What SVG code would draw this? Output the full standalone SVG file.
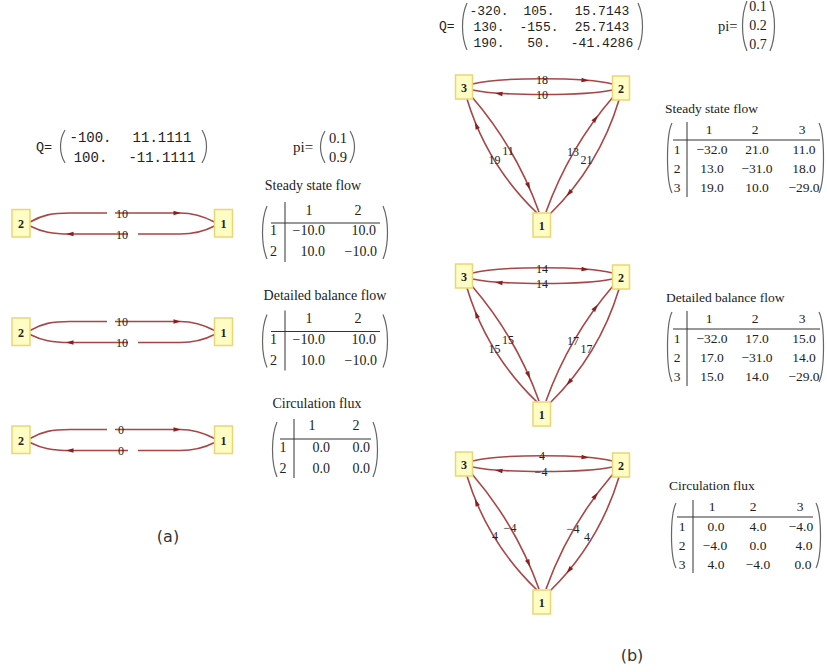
<svg xmlns="http://www.w3.org/2000/svg" width="827" height="672" viewBox="0 0 827 672">
<style>
.edge path{fill:none;stroke:#a84646;stroke-width:1.6}
.ah{fill:#8b1f1f;stroke:none}
.node rect{fill:#fffcc4;stroke:#ecd574;stroke-width:1.5}
.node text{font-family:"Liberation Serif",serif;font-size:12px;font-weight:bold;text-anchor:middle;fill:#222}
.el{font-family:"Liberation Serif",serif;font-size:12px;text-anchor:middle;fill:#222}
.mono{font-family:"Liberation Mono",monospace;fill:#222}
.serif{font-family:"Liberation Serif",serif;fill:#222}
.paren{fill:none;stroke:#666;stroke-width:1.2}
.rule{stroke:#333;stroke-width:1;fill:none}
.tl text{font-family:"Liberation Serif",serif;font-size:14px;fill:#222}
.tr text{font-family:"Liberation Serif",serif;font-size:13.5px;fill:#222}
.m{text-anchor:middle}
.e{text-anchor:end}
.cap{font-family:"DejaVu Sans",sans-serif;font-size:16px;fill:#333;text-anchor:middle}
</style>
<defs>
<path id="ah" class="ah" d="M3,0 L-4.5,-2.3 L-4.5,2.3 Z"/>
</defs>
<rect width="827" height="672" fill="#fff"/>

<!-- (a) Q and pi -->
<g id="a-Q">
<text class="mono" x="36" y="151" font-size="13.5">Q=</text>
<path class="paren" d="M65,130 C59,140 59,153 65,163"/>
<path class="paren" d="M202,130 C208,140 208,153 202,163"/>
<g class="mono m" font-size="14">
<text x="90.5" y="142">-100.</text><text x="162" y="142">11.1111</text>
<text x="90.5" y="162">100.</text><text x="162" y="162">-11.1111</text>
</g>
</g>
<g id="a-pi">
<text class="serif" x="293" y="152" font-size="15">pi=</text>
<path class="paren" d="M325,131 C319,141 319,153 325,163"/>
<path class="paren" d="M350,131 C356,141 356,153 350,163"/>
<g class="serif m" font-size="14.5"><text x="338" y="143">0.1</text><text x="338" y="162">0.9</text></g>
</g>

<!-- (a) graphs -->
<g id="a-steady-graph">
<g id="a1-edges" class="edge">
<path d="M30,222 C42,215 52,213 70,213 L107,213"/>
<path d="M115,213 L180,213 C195,213 205,217 214.5,222"/>
<path d="M214.5,226 C205,231 195,234 180,234 L138,234"/>
<path d="M128,234 L70,234 C52,234 42,232 30,226"/>
<use href="#ah" transform="translate(178,213)"/>
<use href="#ah" transform="translate(69,234) rotate(180)"/>
<text class="el" x="122" y="217.5">10</text>
<text class="el" x="122" y="238.5">10</text>
</g>
<g id="a1-n2" class="node"><rect x="12" y="209.5" width="18" height="27.5"/><text x="21" y="228">2</text></g>
<g id="a1-n1" class="node"><rect x="214.5" y="209.5" width="18" height="27.5"/><text x="223.5" y="228">1</text></g>
</g>

<g id="a-detailed-graph" transform="translate(0,108.5)">
<g id="a2-edges" class="edge">
<path d="M30,222 C42,215 52,213 70,213 L107,213"/>
<path d="M115,213 L180,213 C195,213 205,217 214.5,222"/>
<path d="M214.5,226 C205,231 195,234 180,234 L138,234"/>
<path d="M128,234 L70,234 C52,234 42,232 30,226"/>
<use href="#ah" transform="translate(178,213)"/>
<use href="#ah" transform="translate(69,234) rotate(180)"/>
<text class="el" x="122" y="217.5">10</text>
<text class="el" x="122" y="238.5">10</text>
</g>
<g id="a2-n2" class="node"><rect x="12" y="209.5" width="18" height="27.5"/><text x="21" y="228">2</text></g>
<g id="a2-n1" class="node"><rect x="214.5" y="209.5" width="18" height="27.5"/><text x="223.5" y="228">1</text></g>
</g>

<g id="a-circ-graph" transform="translate(0,216.5)">
<g id="a3-edges" class="edge">
<path d="M30,222 C42,215 52,213 70,213 L107,213"/>
<path d="M115,213 L180,213 C195,213 205,217 214.5,222"/>
<path d="M214.5,226 C205,231 195,234 180,234 L138,234"/>
<path d="M128,234 L70,234 C52,234 42,232 30,226"/>
<use href="#ah" transform="translate(178,213)"/>
<use href="#ah" transform="translate(69,234) rotate(180)"/>
<text class="el" x="121" y="217.5">0</text>
<text class="el" x="121" y="238.5">0</text>
</g>
<g id="a3-n2" class="node"><rect x="12" y="209.5" width="18" height="27.5"/><text x="21" y="228">2</text></g>
<g id="a3-n1" class="node"><rect x="214.5" y="209.5" width="18" height="27.5"/><text x="223.5" y="228">1</text></g>
</g>

<!-- (a) tables -->
<g id="a-steady-table" class="tl">
<text class="m" x="313" y="190" font-size="15">Steady state flow</text>
<path class="paren" d="M267,206 C261,220 261,245 267,259"/>
<path class="paren" d="M383,206 C389,220 389,245 383,259"/>
<path class="rule" d="M285,202 V262 M271,223 H380"/>
<text class="m" x="309" y="214.5">1</text><text class="m" x="358" y="214.5">2</text>
<text class="m" x="273.5" y="235">1</text><text class="m" x="273.5" y="256">2</text>
<text class="e" x="325" y="235">−10.0</text><text class="e" x="376" y="235">10.0</text>
<text class="e" x="325" y="256">10.0</text><text class="e" x="377" y="256">−10.0</text>
</g>
<g id="a-detailed-table" class="tl">
<text class="m" x="325" y="300" font-size="15">Detailed balance flow</text>
<g transform="translate(0,108.5)">
<path class="paren" d="M267,206 C261,220 261,245 267,259"/>
<path class="paren" d="M383,206 C389,220 389,245 383,259"/>
<path class="rule" d="M285,202 V262 M271,223 H380"/>
<text class="m" x="309" y="214.5">1</text><text class="m" x="358" y="214.5">2</text>
<text class="m" x="273.5" y="235">1</text><text class="m" x="273.5" y="256">2</text>
<text class="e" x="325" y="235">−10.0</text><text class="e" x="376" y="235">10.0</text>
<text class="e" x="325" y="256">10.0</text><text class="e" x="377" y="256">−10.0</text>
</g>
</g>
<g id="a-circ-table" class="tl">
<text class="m" x="317" y="408" font-size="15">Circulation flux</text>
<path class="paren" d="M277,422 C271,436 271,463 277,477"/>
<path class="paren" d="M373,422 C379,436 379,463 373,477"/>
<path class="rule" d="M294,419 V478 M280,439 H371"/>
<text class="m" x="312" y="430">1</text><text class="m" x="356" y="430">2</text>
<text class="m" x="283" y="452">1</text><text class="m" x="283" y="473">2</text>
<text class="e" x="330" y="452">0.0</text><text class="e" x="370" y="452">0.0</text>
<text class="e" x="330" y="473">0.0</text><text class="e" x="370" y="473">0.0</text>
</g>
<text class="cap" x="168" y="542">(a)</text>

<!-- (b) Q and pi -->
<g id="b-Q">
<text class="mono" x="439" y="30" font-size="13">Q=</text>
<path class="paren" d="M467,3 C461,16 461,37 467,50"/>
<path class="paren" d="M638,3 C644,16 644,37 638,50"/>
<g class="mono m" font-size="13">
<text x="489" y="15">-320.</text><text x="539" y="15">105.</text><text x="602" y="15">15.7143</text>
<text x="489" y="31">130.</text><text x="539" y="31">-155.</text><text x="602" y="31">25.7143</text>
<text x="489" y="47">190.</text><text x="539" y="47">50.</text><text x="602" y="47">-41.4286</text>
</g>
</g>
<g id="b-pi">
<text class="serif" x="718" y="31" font-size="14.5">pi=</text>
<path class="paren" d="M747,1 C741,15 741,37 747,51"/>
<path class="paren" d="M770,1 C776,15 776,37 770,51"/>
<g class="serif m" font-size="14"><text x="758" y="11">0.1</text><text x="758" y="30">0.2</text><text x="758" y="49">0.7</text></g>
</g>

<!-- (b) triangles -->
<g id="b-steady-graph">
<g id="b1-edges" class="edge">
<path d="M472.5,84 C500,77 585,77 612.5,84"/>
<path d="M612.5,90 C585,96 500,96 472.5,90"/>
<path d="M472,97 Q516,148 539,212"/>
<path d="M537,213 Q487,165 467,99"/>
<path d="M546,212 Q569,148 613,97"/>
<path d="M619,100 Q599,166 550,214"/>
<use href="#ah" transform="translate(586,80.4) rotate(5)"/>
<use href="#ah" transform="translate(498,93.6) rotate(185)"/>
<use href="#ah" transform="translate(529,187) rotate(66)"/>
<use href="#ah" transform="translate(476,124.7) rotate(-113)"/>
<use href="#ah" transform="translate(596,118) rotate(-53)"/>
<use href="#ah" transform="translate(568.5,194) rotate(130)"/>
<text class="el" x="542" y="83.5">18</text>
<text class="el" x="542" y="99">10</text>
<text class="el" x="508" y="155">11</text>
<text class="el" x="494.5" y="163.5">19</text>
<text class="el" x="573" y="156">13</text>
<text class="el" x="586.5" y="164">21</text>
</g>
<g id="b1-n3" class="node"><rect x="455.5" y="75" width="17" height="24"/><text x="464" y="91.5">3</text></g>
<g id="b1-n2" class="node"><rect x="612.5" y="76" width="17" height="24"/><text x="621" y="92.5">2</text></g>
<g id="b1-n1" class="node"><rect x="533" y="213" width="17.5" height="24"/><text x="541.75" y="229.5">1</text></g>
</g>

<g id="b-detailed-graph" transform="translate(0,189)">
<g id="b2-edges" class="edge">
<path d="M472.5,84 C500,77 585,77 612.5,84"/>
<path d="M612.5,90 C585,96 500,96 472.5,90"/>
<path d="M472,97 Q516,148 539,212"/>
<path d="M537,213 Q487,165 467,99"/>
<path d="M546,212 Q569,148 613,97"/>
<path d="M619,100 Q599,166 550,214"/>
<use href="#ah" transform="translate(586,80.4) rotate(5)"/>
<use href="#ah" transform="translate(498,93.6) rotate(185)"/>
<use href="#ah" transform="translate(529,187) rotate(66)"/>
<use href="#ah" transform="translate(476,124.7) rotate(-113)"/>
<use href="#ah" transform="translate(596,118) rotate(-53)"/>
<use href="#ah" transform="translate(568.5,194) rotate(130)"/>
<text class="el" x="542" y="83.5">14</text>
<text class="el" x="542" y="99">14</text>
<text class="el" x="508" y="155">15</text>
<text class="el" x="494.5" y="163.5">15</text>
<text class="el" x="573" y="156">17</text>
<text class="el" x="586.5" y="164">17</text>
</g>
<g id="b2-n3" class="node"><rect x="455.5" y="75" width="17" height="24"/><text x="464" y="91.5">3</text></g>
<g id="b2-n2" class="node"><rect x="612.5" y="76" width="17" height="24"/><text x="621" y="92.5">2</text></g>
<g id="b2-n1" class="node"><rect x="533" y="213" width="17.5" height="24"/><text x="541.75" y="229.5">1</text></g>
</g>

<g id="b-circ-graph" transform="translate(0,377)">
<g id="b3-edges" class="edge">
<path d="M472.5,84 C500,77 585,77 612.5,84"/>
<path d="M612.5,90 C585,96 500,96 472.5,90"/>
<path d="M472,97 Q516,148 539,212"/>
<path d="M537,213 Q487,165 467,99"/>
<path d="M546,212 Q569,148 613,97"/>
<path d="M619,100 Q599,166 550,214"/>
<use href="#ah" transform="translate(586,80.4) rotate(5)"/>
<use href="#ah" transform="translate(498,93.6) rotate(185)"/>
<use href="#ah" transform="translate(529,187) rotate(66)"/>
<use href="#ah" transform="translate(476,124.7) rotate(-113)"/>
<use href="#ah" transform="translate(596,118) rotate(-53)"/>
<use href="#ah" transform="translate(568.5,194) rotate(130)"/>
<text class="el" x="542" y="82.5">4</text>
<text class="el" x="541" y="99">−4</text>
<text class="el" x="510" y="155">−4</text>
<text class="el" x="495" y="162.5">4</text>
<text class="el" x="573" y="156">−4</text>
<text class="el" x="587" y="164">4</text>
</g>
<g id="b3-n3" class="node"><rect x="455.5" y="75" width="17" height="24"/><text x="464" y="91.5">3</text></g>
<g id="b3-n2" class="node"><rect x="612.5" y="76" width="17" height="24"/><text x="621" y="92.5">2</text></g>
<g id="b3-n1" class="node"><rect x="533" y="213" width="17.5" height="24"/><text x="541.75" y="229.5">1</text></g>
</g>

<!-- (b) tables -->
<g id="b-steady-table" class="tr">
<text x="665" y="112.5" font-size="14">Steady state flow</text>
<path class="paren" d="M672,123 C666,135 666,181 672,193"/>
<path class="paren" d="M819,123 C825,135 825,181 819,193"/>
<path class="rule" d="M687,122 V197 M673,140 H820"/>
<text class="m" x="709" y="133.5">1</text><text class="m" x="755" y="133.5">2</text><text class="m" x="802" y="133.5">3</text>
<text class="m" x="677" y="153.5">1</text><text class="m" x="677" y="172.5">2</text><text class="m" x="677" y="191.5">3</text>
<text class="m" x="712" y="153.5">−32.0</text><text class="m" x="757" y="153.5">21.0</text><text class="m" x="804" y="153.5">11.0</text>
<text class="m" x="712" y="172.5">13.0</text><text class="m" x="757" y="172.5">−31.0</text><text class="m" x="804" y="172.5">18.0</text>
<text class="m" x="712" y="191.5">19.0</text><text class="m" x="757" y="191.5">10.0</text><text class="m" x="804" y="191.5">−29.0</text>
</g>
<g id="b-detailed-table" class="tr">
<text x="666" y="301.5" font-size="14">Detailed balance flow</text>
<g transform="translate(0,189)">
<path class="paren" d="M672,123 C666,135 666,181 672,193"/>
<path class="paren" d="M819,123 C825,135 825,181 819,193"/>
<path class="rule" d="M687,122 V197 M673,140 H820"/>
<text class="m" x="709" y="133.5">1</text><text class="m" x="755" y="133.5">2</text><text class="m" x="802" y="133.5">3</text>
<text class="m" x="677" y="153.5">1</text><text class="m" x="677" y="172.5">2</text><text class="m" x="677" y="191.5">3</text>
<text class="m" x="712" y="153.5">−32.0</text><text class="m" x="757" y="153.5">17.0</text><text class="m" x="804" y="153.5">15.0</text>
<text class="m" x="712" y="172.5">17.0</text><text class="m" x="757" y="172.5">−31.0</text><text class="m" x="804" y="172.5">14.0</text>
<text class="m" x="712" y="191.5">15.0</text><text class="m" x="757" y="191.5">14.0</text><text class="m" x="804" y="191.5">−29.0</text>
</g>
</g>
<g id="b-circ-table" class="tr">
<text x="669" y="489.5" font-size="14">Circulation flux</text>
<path class="paren" d="M676,503 C670,515 670,556 676,568"/>
<path class="paren" d="M816,503 C822,515 822,556 816,568"/>
<path class="rule" d="M693,500 V573 M677,517 H813"/>
<text class="m" x="712" y="510.5">1</text><text class="m" x="753" y="510.5">2</text><text class="m" x="800" y="510.5">3</text>
<text class="m" x="682" y="530.5">1</text><text class="m" x="682" y="549.5">2</text><text class="m" x="682" y="568.5">3</text>
<text class="m" x="716" y="530.5">0.0</text><text class="m" x="758" y="530.5">4.0</text><text class="m" x="801" y="530.5">−4.0</text>
<text class="m" x="715" y="549.5">−4.0</text><text class="m" x="758" y="549.5">0.0</text><text class="m" x="804" y="549.5">4.0</text>
<text class="m" x="716" y="568.5">4.0</text><text class="m" x="758" y="568.5">−4.0</text><text class="m" x="803" y="568.5">0.0</text>
</g>
<text class="cap" x="632" y="661">(b)</text>
</svg>
